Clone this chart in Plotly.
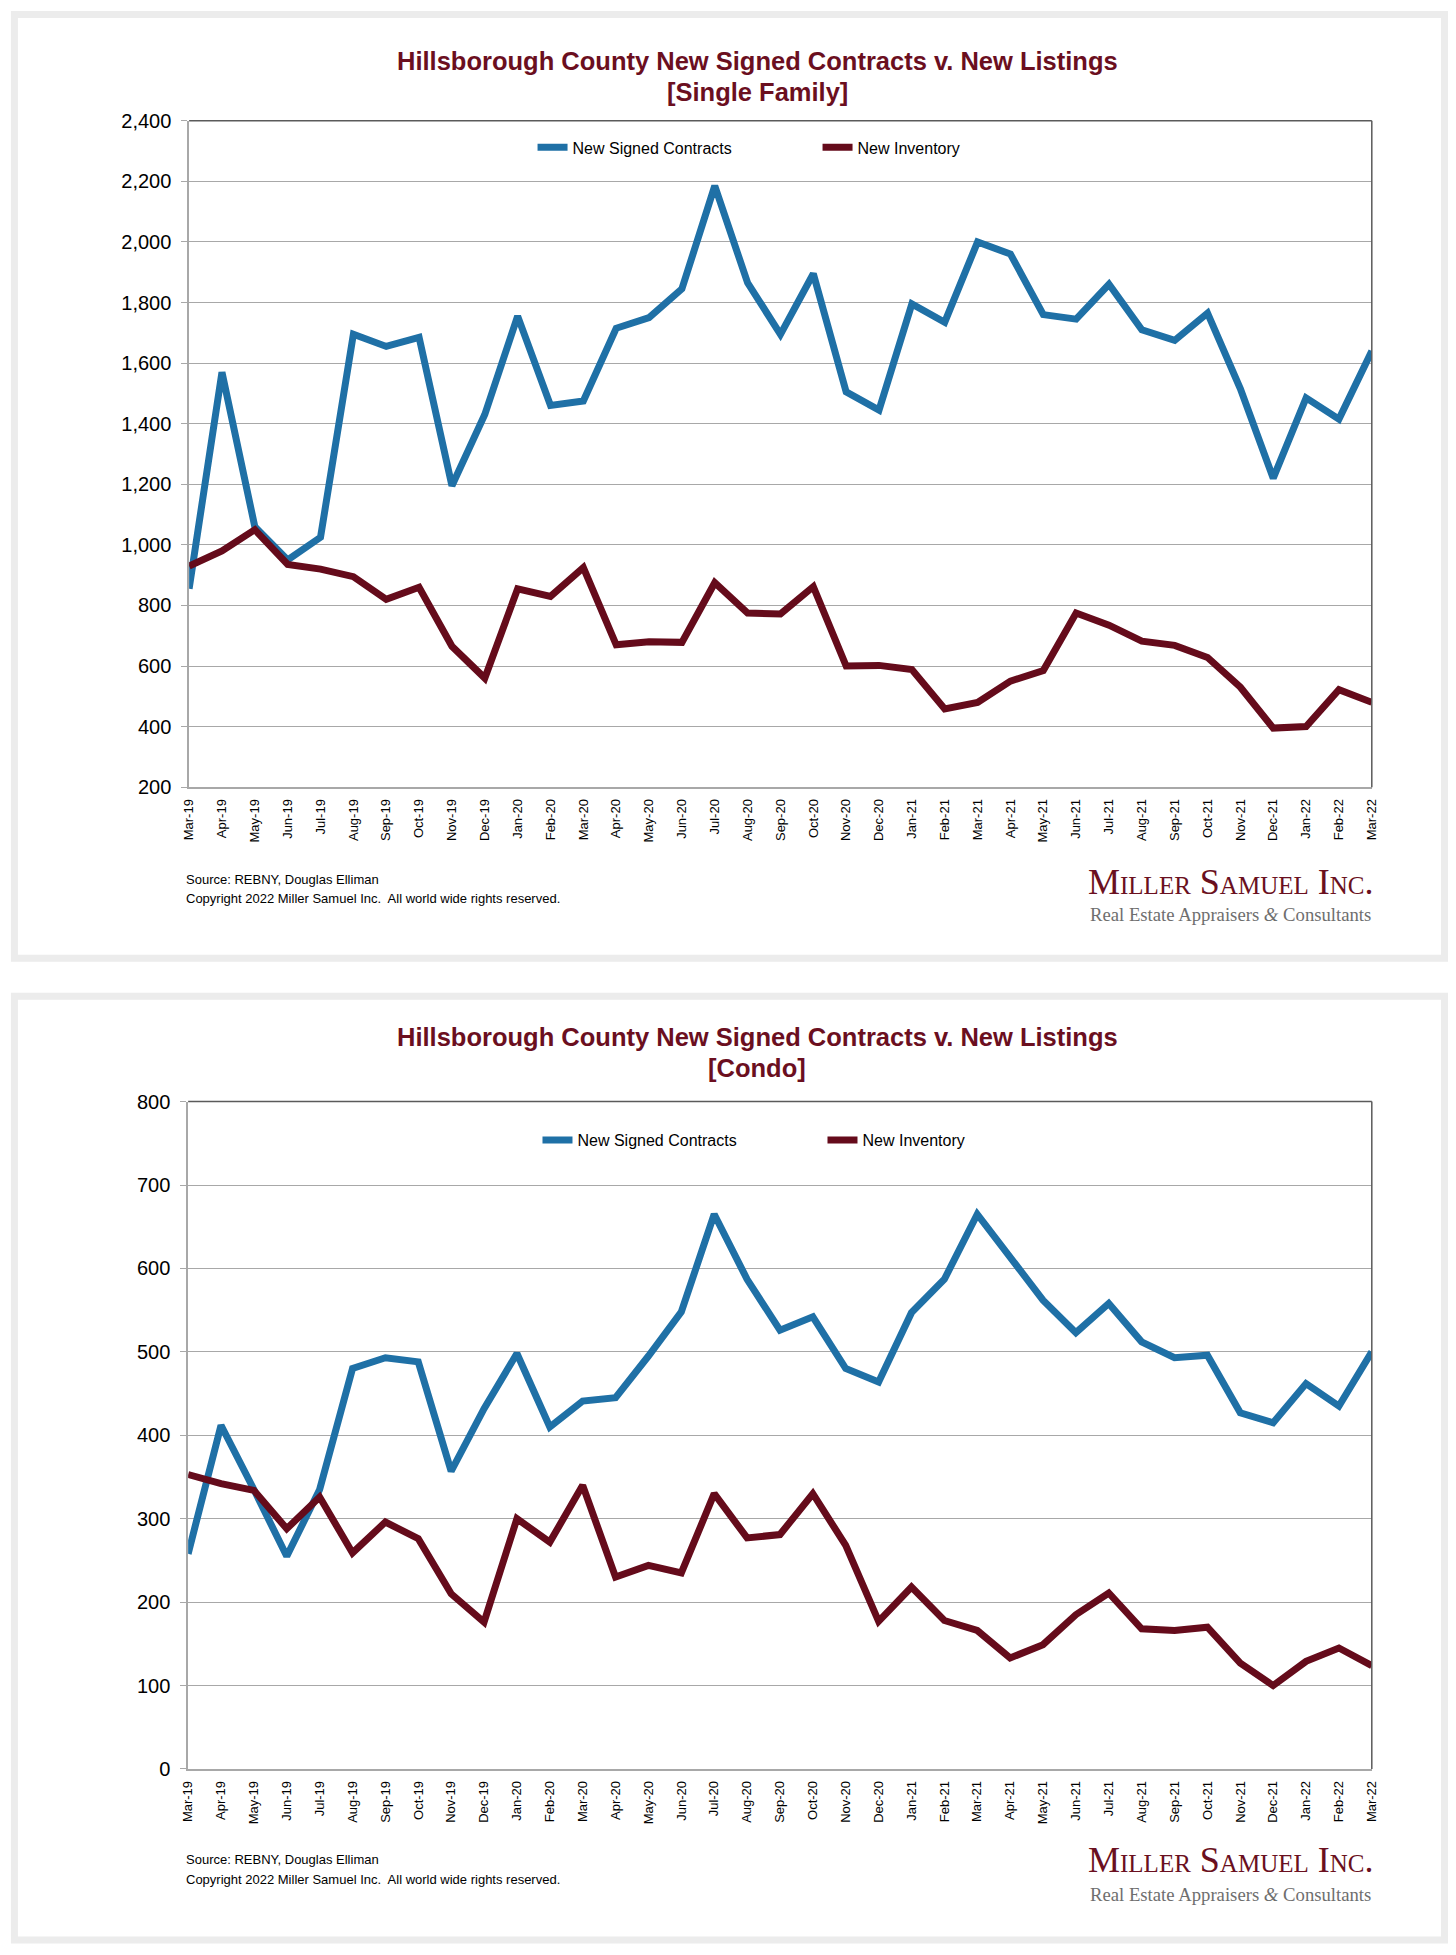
import plotly.graph_objects as go

W, H = 1456, 1955

months = ["Mar-19","Apr-19","May-19","Jun-19","Jul-19","Aug-19","Sep-19","Oct-19","Nov-19","Dec-19",
          "Jan-20","Feb-20","Mar-20","Apr-20","May-20","Jun-20","Jul-20","Aug-20","Sep-20","Oct-20",
          "Nov-20","Dec-20","Jan-21","Feb-21","Mar-21","Apr-21","May-21","Jun-21","Jul-21","Aug-21",
          "Sep-21","Oct-21","Nov-21","Dec-21","Jan-22","Feb-22","Mar-22"]

sf_contracts = [855,1570,1060,950,1025,1695,1655,1685,1195,1430,
                1755,1460,1475,1715,1750,1845,2185,1865,1695,1895,
                1505,1445,1795,1735,2000,1960,1760,1745,1860,1710,
                1675,1765,1515,1220,1485,1415,1640]
sf_inventory = [930,980,1050,935,920,895,820,860,665,560,
                855,830,925,670,680,678,875,775,772,862,
                600,602,588,458,480,550,585,775,735,682,
                668,628,530,395,400,522,480]

condo_contracts = [258,412,335,255,335,480,493,488,357,432,
                   498,410,441,445,495,548,665,587,526,542,
                   480,464,547,587,665,612,562,523,558,512,
                   493,496,427,415,462,435,500]
condo_inventory = [353,342,334,288,326,259,296,276,210,176,
                   300,272,340,230,244,235,330,277,281,330,
                   268,177,218,178,166,133,149,185,211,168,
                   166,170,127,100,129,145,124]

title_main = "Hillsborough County New Signed Contracts v. New Listings"
subtitles = ["[Single Family]", "[Condo]"]
series_names = ["New Signed Contracts", "New Inventory"]
source_text = "Source: REBNY, Douglas Elliman"
copyright_text = "Copyright 2022 Miller Samuel Inc.  All world wide rights reserved."

BLUE = "#1f70a6"
MAROON = "#650b1b"
TITLE_C = "#6b0f1f"
GRID = "#a8a8a8"
BORDER = "#5a5a5a"
PANEL = "#ececec"

def px(x):
    return x / W

def py(y):
    return 1 - y / H

panels = [
    dict(plot=(183, 1378, 111, 785), panel=(0, 962), yrange=[200, 2400], dtick=200,
         data=(sf_contracts, sf_inventory), title_y=(51, 82), legend_y=138, legend_x=530,
         foot_y=(878, 898), logo_y=(881, 914)),
    dict(plot=(182, 1378, 1103, 1778), panel=(993, 1955), yrange=[0, 800], dtick=100,
         data=(condo_contracts, condo_inventory), title_y=(1038, 1069), legend_y=1142, legend_x=535,
         foot_y=(1870, 1890), logo_y=(1870, 1905)),
]

fig = go.Figure()
shapes = []
annotations = []
layout_axes = {}

for i, p in enumerate(panels):
    n = i + 1
    xa = "x" if n == 1 else f"x{n}"
    ya = "y" if n == 1 else f"y{n}"
    leg = "legend" if n == 1 else f"legend{n}"
    x0, x1, y0, y1 = p["plot"]
    c, inv = p["data"]
    fig.add_trace(go.Scatter(x=months, y=c, mode="lines", name=series_names[0],
                             line=dict(color=BLUE, width=7), xaxis=xa, yaxis=ya,
                             legend=leg, hoverinfo="x+y+name"))
    fig.add_trace(go.Scatter(x=months, y=inv, mode="lines", name=series_names[1],
                             line=dict(color=MAROON, width=7), xaxis=xa, yaxis=ya,
                             legend=leg, hoverinfo="x+y+name"))

    xkey = "xaxis" if n == 1 else f"xaxis{n}"
    ykey = "yaxis" if n == 1 else f"yaxis{n}"
    layout_axes[xkey] = dict(
        domain=[px(x0), px(x1)], anchor=ya, type="category",
        range=[0, len(months) - 1], tickangle=-90,
        tickfont=dict(family="Liberation Sans, Arial", size=13, color="#000"),
        showgrid=False, showline=True, linecolor=GRID, linewidth=1.5,
        ticks="", ticklabelstandoff=5, fixedrange=True,
    )
    layout_axes[ykey] = dict(
        domain=[py(y1), py(y0)], anchor=xa, range=p["yrange"], dtick=p["dtick"],
        tickformat=",", showgrid=True, gridcolor=GRID, gridwidth=1,
        showline=True, linecolor=GRID, linewidth=1.5, ticks="outside",
        ticklen=6, tickcolor=GRID, tickwidth=1,
        tickfont=dict(family="Liberation Sans, Arial", size=20, color="#000"),
        ticklabelstandoff=6, zeroline=False, fixedrange=True,
    )
    layout_axes[leg] = dict(
        x=px(p["legend_x"]), y=py(p["legend_y"]), xanchor="left", yanchor="middle",
        orientation="h", bgcolor="rgba(0,0,0,0)", itemwidth=30,
        entrywidth=240, entrywidthmode="pixels",
        font=dict(family="Liberation Sans, Arial", size=16, color="#000"),
    )

    pt, pb = p["panel"]
    shapes.append(dict(type="rect", xref="paper", yref="paper",
                       x0=px(6.5), x1=px(1451.5), y0=py(pt + 3.5), y1=py(pb - 4),
                       line=dict(color=PANEL, width=7), fillcolor="rgba(0,0,0,0)", layer="below"))
    shapes.append(dict(type="line", xref="paper", yref="paper",
                       x0=px(x0), x1=px(x1), y0=py(y0), y1=py(y0),
                       line=dict(color=BORDER, width=1.5)))
    shapes.append(dict(type="line", xref="paper", yref="paper",
                       x0=px(x1), x1=px(x1), y0=py(y0), y1=py(y1),
                       line=dict(color=BORDER, width=1.5)))

    annotations.append(dict(
        xref="paper", yref="paper", x=px(757), y=py(p["title_y"][0]),
        xanchor="center", yanchor="middle", showarrow=False,
        text=f"<b>{title_main}</b>",
        font=dict(family="Liberation Sans, Arial", size=25.5, color=TITLE_C)))
    annotations.append(dict(
        xref="paper", yref="paper", x=px(757), y=py(p["title_y"][1]),
        xanchor="center", yanchor="middle", showarrow=False,
        text=f"<b>{subtitles[i]}</b>",
        font=dict(family="Liberation Sans, Arial", size=25.5, color=TITLE_C)))
    annotations.append(dict(
        xref="paper", yref="paper", x=px(178), y=py(p["foot_y"][0]),
        xanchor="left", yanchor="middle", showarrow=False, text=source_text,
        font=dict(family="Liberation Sans, Arial", size=13, color="#000")))
    annotations.append(dict(
        xref="paper", yref="paper", x=px(178), y=py(p["foot_y"][1]),
        xanchor="left", yanchor="middle", showarrow=False, text=copyright_text,
        font=dict(family="Liberation Sans, Arial", size=13, color="#000")))
    annotations.append(dict(
        xref="paper", yref="paper", x=px(1381), y=py(p["logo_y"][0]),
        xanchor="right", yanchor="middle", showarrow=False, text="Miller Samuel Inc.",
        font=dict(family="Liberation Serif, Times New Roman, serif", size=36,
                  color="#6a1020", variant="small-caps")))
    annotations.append(dict(
        xref="paper", yref="paper", x=px(1379), y=py(p["logo_y"][1]),
        xanchor="right", yanchor="middle", showarrow=False,
        text="Real Estate Appraisers <i>&amp;</i> Consultants",
        font=dict(family="Liberation Serif, Times New Roman, serif", size=18.7,
                  color="#6e6e6e")))

fig.update_layout(
    width=W, height=H, margin=dict(l=0, r=0, t=0, b=0),
    paper_bgcolor="#ffffff", plot_bgcolor="#ffffff",
    showlegend=True, shapes=shapes, annotations=annotations,
    **layout_axes,
)

post = (
    "document.documentElement.style.margin='0px';"
    "document.body.style.margin='0px';"
    "document.body.style.overflow='hidden';"
    "var gd=document.getElementsByClassName('plotly-graph-div')[0];"
    "gd.style.position='absolute';gd.style.left='0px';gd.style.top='0px';"
)
fig.write_html("out.html", config={"displayModeBar": False}, post_script=post)
